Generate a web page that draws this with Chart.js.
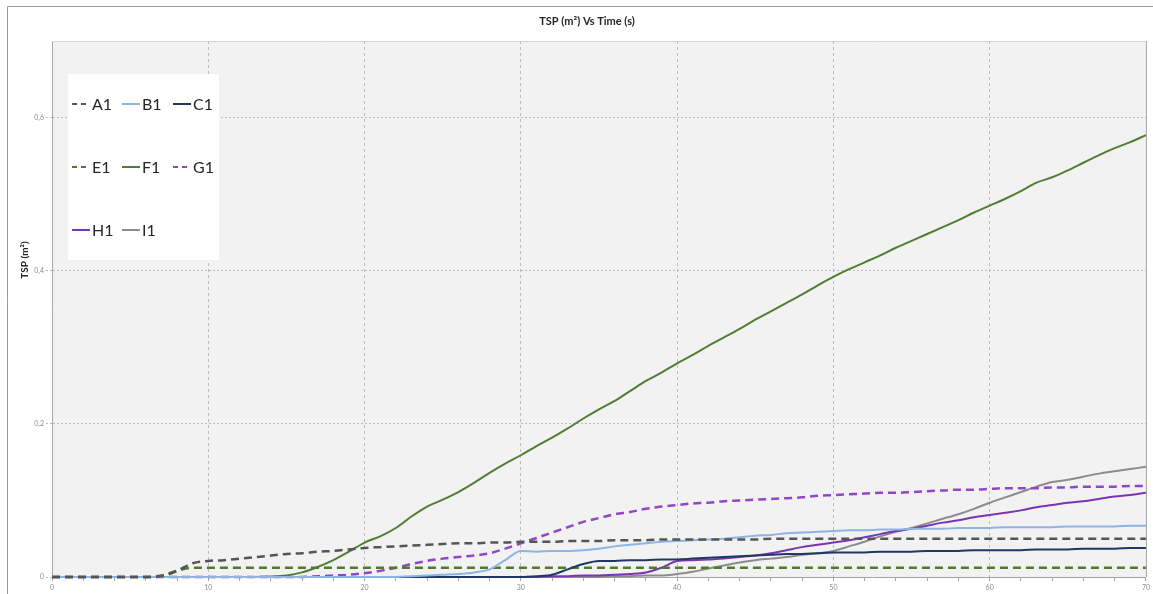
<!DOCTYPE html>
<html>
<head>
<meta charset="utf-8">
<title>TSP vs Time</title>
<script src="https://cdn.jsdelivr.net/npm/chart.js@4.4.1/dist/chart.umd.min.js"></script>
<style>
  html, body { margin: 0; padding: 0; background: #fff; }
  #wrap { position: relative; width: 1153px; height: 594px; }
</style>
</head>
<body>
<div id="wrap"><canvas id="tspChart"></canvas></div>
<script>
// time axis (s)
const seconds = [
  0, 1, 2, 3, 4, 5, 6, 7, 8, 9,
  10, 11, 12, 13, 14, 15, 16, 17, 18, 19,
  20, 21, 22, 23, 24, 25, 26, 27, 28, 29,
  30, 31, 32, 33, 34, 35, 36, 37, 38, 39,
  40, 41, 42, 43, 44, 45, 46, 47, 48, 49,
  50, 51, 52, 53, 54, 55, 56, 57, 58, 59,
  60, 61, 62, 63, 64, 65, 66, 67, 68, 69,
  70
];
const yTicks = [0, 0.2, 0.4, 0.6];

// TSP (m2) per sensor, one value per second
const A1 = [
  0, 0, 0, 0, 0, 0, 0, 0.001, 0.008, 0.018,
  0.021, 0.022, 0.024, 0.026, 0.028, 0.030, 0.031, 0.033, 0.034, 0.036,
  0.038, 0.039, 0.040, 0.041, 0.042, 0.043, 0.044, 0.044, 0.045, 0.045,
  0.046, 0.046, 0.046, 0.047, 0.047, 0.047, 0.048, 0.048, 0.048, 0.049,
  0.049, 0.049, 0.049, 0.049, 0.049, 0.049, 0.050, 0.050, 0.050, 0.050,
  0.050, 0.050, 0.050, 0.050, 0.050, 0.050, 0.050, 0.050, 0.050, 0.050,
  0.050, 0.050, 0.050, 0.050, 0.050, 0.050, 0.050, 0.050, 0.050, 0.050,
  0.050
];
const B1 = [
  0, 0, 0, 0, 0, 0, 0, 0, 0, 0,
  0, 0, 0, 0, 0, 0, 0, 0, 0, 0,
  0, 0, 0, 0.001, 0.002, 0.003, 0.004, 0.006, 0.010, 0.022,
  0.034, 0.033, 0.034, 0.034, 0.035, 0.037, 0.040, 0.042, 0.044, 0.046,
  0.047, 0.048, 0.049, 0.050, 0.052, 0.054, 0.055, 0.057, 0.058, 0.059,
  0.060, 0.061, 0.061, 0.062, 0.062, 0.063, 0.063, 0.063, 0.064, 0.064,
  0.064, 0.065, 0.065, 0.065, 0.065, 0.066, 0.066, 0.066, 0.066, 0.067,
  0.067
];
const C1 = [
  0, 0, 0, 0, 0, 0, 0, 0, 0, 0,
  0, 0, 0, 0, 0, 0, 0, 0, 0, 0,
  0, 0, 0, 0, 0, 0, 0, 0, 0, 0,
  0, 0.001, 0.003, 0.010, 0.017, 0.021, 0.021, 0.022, 0.022, 0.023,
  0.023, 0.024, 0.025, 0.026, 0.027, 0.028, 0.029, 0.030, 0.030, 0.031,
  0.032, 0.032, 0.032, 0.033, 0.033, 0.033, 0.034, 0.034, 0.034, 0.035,
  0.035, 0.035, 0.035, 0.036, 0.036, 0.036, 0.037, 0.037, 0.037, 0.038,
  0.038
];
const E1 = [
  0, 0, 0, 0, 0, 0, 0, 0.002, 0.008, 0.012,
  0.012, 0.012, 0.012, 0.012, 0.012, 0.012, 0.012, 0.012, 0.012, 0.012,
  0.012, 0.012, 0.012, 0.012, 0.012, 0.012, 0.012, 0.012, 0.012, 0.012,
  0.012, 0.012, 0.012, 0.012, 0.012, 0.012, 0.012, 0.012, 0.012, 0.012,
  0.012, 0.012, 0.012, 0.012, 0.012, 0.012, 0.012, 0.012, 0.012, 0.012,
  0.012, 0.012, 0.012, 0.012, 0.012, 0.012, 0.012, 0.012, 0.012, 0.012,
  0.012, 0.012, 0.012, 0.012, 0.012, 0.012, 0.012, 0.012, 0.012, 0.012,
  0.012
];
const F1 = [
  0, 0, 0, 0, 0, 0, 0, 0, 0, 0,
  0, 0, 0, 0, 0.0005, 0.002, 0.006, 0.013, 0.022, 0.033,
  0.045, 0.053, 0.064, 0.079, 0.092, 0.101, 0.111, 0.123, 0.136, 0.148,
  0.159, 0.171, 0.182, 0.194, 0.207, 0.219, 0.230, 0.243, 0.256, 0.267,
  0.279, 0.290, 0.302, 0.313, 0.324, 0.336, 0.347, 0.358, 0.369, 0.381,
  0.392, 0.402, 0.411, 0.420, 0.430, 0.439, 0.448, 0.457, 0.466, 0.476,
  0.485, 0.494, 0.504, 0.515, 0.522, 0.531, 0.541, 0.551, 0.560, 0.568,
  0.577
];
const G1 = [
  0, 0, 0, 0, 0, 0, 0, 0, 0, 0,
  0, 0, 0, 0, 0, 0, 0, 0.001, 0.002, 0.003,
  0.005, 0.008, 0.012, 0.017, 0.021, 0.024, 0.026, 0.028, 0.031, 0.037,
  0.044, 0.051, 0.058, 0.065, 0.072, 0.077, 0.082, 0.085, 0.089, 0.092,
  0.094, 0.096, 0.097, 0.099, 0.100, 0.101, 0.102, 0.103, 0.104, 0.106,
  0.107, 0.108, 0.109, 0.110, 0.110, 0.111, 0.112, 0.113, 0.114, 0.114,
  0.115, 0.116, 0.116, 0.116, 0.117, 0.117, 0.118, 0.118, 0.118, 0.119,
  0.119
];
const H1 = [
  0, 0, 0, 0, 0, 0, 0, 0, 0, 0,
  0, 0, 0, 0, 0, 0, 0, 0, 0, 0,
  0, 0, 0, 0, 0, 0, 0, 0, 0, 0,
  0, 0, 0.001, 0.001, 0.002, 0.002, 0.003, 0.004, 0.006, 0.012,
  0.021, 0.022, 0.023, 0.024, 0.026, 0.028, 0.031, 0.035, 0.039, 0.042,
  0.045, 0.048, 0.052, 0.056, 0.060, 0.063, 0.067, 0.071, 0.074, 0.078,
  0.081, 0.084, 0.087, 0.091, 0.094, 0.097, 0.099, 0.102, 0.105, 0.107,
  0.110
];
const I1 = [
  0, 0, 0, 0, 0, 0, 0, 0, 0, 0,
  0, 0, 0, 0, 0, 0, 0, 0, 0, 0,
  0, 0, 0, 0, 0, 0, 0, 0, 0, 0,
  0, 0, 0, 0, 0, 0, 0.001, 0.001, 0.002, 0.002,
  0.004, 0.007, 0.011, 0.015, 0.019, 0.022, 0.024, 0.026, 0.029, 0.031,
  0.034, 0.040, 0.046, 0.053, 0.059, 0.064, 0.070, 0.076, 0.082, 0.089,
  0.097, 0.104, 0.111, 0.118, 0.124, 0.127, 0.131, 0.135, 0.138, 0.141,
  0.144
];

const FONT = 'Lato, "Open Sans", sans-serif';

function toPoints(values) {
    return values.map((v, i) => ({ x: seconds[i], y: v }));
}

function makeSeries(label, values, color, dashed) {
    return {
        label: label,
        data: toPoints(values),
        borderColor: color,
        backgroundColor: color,
        borderWidth: dashed ? 2.5 : 2,
        borderDash: dashed ? [8, 5] : [],
        pointRadius: 0,
        cubicInterpolationMode: 'monotone',
        fill: false,
        clip: 4
    };
}

const datasets = [
    makeSeries('A1', A1, '#555555', true),
    makeSeries('B1', B1, '#8db4e2', false),
    makeSeries('C1', C1, '#203864', false),
    makeSeries('E1', E1, '#4f7a28', true),
    makeSeries('F1', F1, '#527d34', false),
    makeSeries('G1', G1, '#9146c8', true),
    makeSeries('H1', H1, '#7a36b2', false),
    makeSeries('I1', I1, '#8c8c8c', false)
];

// outer frame + plot background
const framePlugin = {
    id: 'frame',
    beforeDraw(chart) {
        const { ctx, chartArea: a, width, height } = chart;
        ctx.save();
        ctx.fillStyle = '#ffffff';
        ctx.fillRect(0, 0, width, height);
        ctx.strokeStyle = '#9a9a9a';
        ctx.lineWidth = 1;
        ctx.beginPath();
        ctx.moveTo(7.5, height);
        ctx.lineTo(7.5, 6.5);
        ctx.lineTo(width, 6.5);
        ctx.stroke();
        ctx.fillStyle = '#f2f2f2';
        ctx.fillRect(a.left, a.top, a.right - a.left, a.bottom - a.top);
        ctx.restore();
    },
    afterDraw(chart) {
        const { ctx, chartArea: a } = chart;
        ctx.save();
        ctx.lineWidth = 1;
        ctx.strokeStyle = '#d4d4d4';
        ctx.beginPath();
        ctx.moveTo(a.left, a.top + 0.5);
        ctx.lineTo(a.right, a.top + 0.5);
        ctx.stroke();
        ctx.strokeStyle = '#a6a6a6';
        ctx.beginPath();
        ctx.moveTo(a.right + 0.5, a.top);
        ctx.lineTo(a.right + 0.5, a.bottom);
        ctx.stroke();

        // chart title
        ctx.fillStyle = '#262626';
        ctx.textAlign = 'center';
        ctx.textBaseline = 'middle';
        ctx.font = 'bold 11px ' + FONT;
        ctx.fillText('TSP (m\u00B2) Vs Time (s)', 587, 21);

        // y axis title
        ctx.translate(25, 260);
        ctx.rotate(-Math.PI / 2);
        ctx.font = 'bold 10px ' + FONT;
        ctx.fillText('TSP (m\u00B2)', 0, 0);
        ctx.restore();
    }
};

// legend box in the upper left of the plot, three items per row
const legendPlugin = {
    id: 'boxLegend',
    afterDraw(chart) {
        const ctx = chart.ctx;
        const cols = [72, 122, 173];
        const rows = [104, 167, 230];
        ctx.save();
        ctx.fillStyle = '#ffffff';
        ctx.fillRect(68, 74, 151, 186);
        ctx.font = '16px ' + FONT;
        ctx.textBaseline = 'middle';
        ctx.textAlign = 'left';
        chart.data.datasets.forEach((ds, i) => {
            const x = cols[i % 3];
            const y = rows[Math.floor(i / 3)];
            ctx.strokeStyle = ds.borderColor;
            ctx.lineWidth = 2;
            ctx.setLineDash(ds.borderDash.length ? [5, 4] : []);
            ctx.beginPath();
            ctx.moveTo(x, y);
            ctx.lineTo(x + 18, y);
            ctx.stroke();
            ctx.setLineDash([]);
            ctx.fillStyle = '#262626';
            ctx.fillText(ds.label, x + 20, y + 1);
        });
        ctx.restore();
    }
};

new Chart(document.getElementById('tspChart'), {
    type: 'line',
    data: { datasets: datasets },
    plugins: [framePlugin, legendPlugin],
    options: {
        responsive: true,
        maintainAspectRatio: false,
        animation: false,
        layout: { padding: { top: 41, right: 7, left: 0, bottom: 0 } },
        plugins: {
            legend: { display: false },
            title: { display: false },
            tooltip: { enabled: false }
        },
        scales: {
            x: {
                type: 'linear',
                min: 0,
                max: 70,
                afterFit(scale) { scale.height = 17; },
                ticks: {
                    stepSize: 2,
                    autoSkip: false,
                    maxRotation: 0,
                    padding: 3,
                    color: '#8c8c8c',
                    font: { size: 7, family: FONT },
                    callback: v => (v % 10 === 0 ? String(v) : '')
                },
                grid: {
                    color: ctx => (ctx.tick && ctx.tick.value % 10 === 0 && ctx.tick.value > 0 && ctx.tick.value < 70)
                        ? '#bcbcbc' : 'rgba(0,0,0,0)',
                    tickColor: '#a6a6a6',
                    tickLength: 4,
                    lineWidth: 1
                },
                border: { display: true, color: '#a6a6a6', width: 1, dash: [3, 3] }
            },
            y: {
                type: 'linear',
                min: 0,
                max: 0.7,
                afterFit(scale) { scale.width = 52; },
                afterBuildTicks(scale) {
                    scale.ticks = yTicks.map(v => ({ value: v }));
                },
                ticks: {
                    padding: 2,
                    color: '#8c8c8c',
                    font: { size: 7, family: FONT },
                    callback: v => String(v).replace('.', ',')
                },
                grid: {
                    color: ctx => (ctx.tick && ctx.tick.value > 0) ? '#bcbcbc' : 'rgba(0,0,0,0)',
                    tickColor: '#bcbcbc',
                    tickLength: 6,
                    tickBorderDash: [2, 2],
                    lineWidth: 1
                },
                border: { display: true, color: '#a6a6a6', width: 1, dash: [2, 2] }
            }
        }
    }
});
</script>
</body>
</html>
